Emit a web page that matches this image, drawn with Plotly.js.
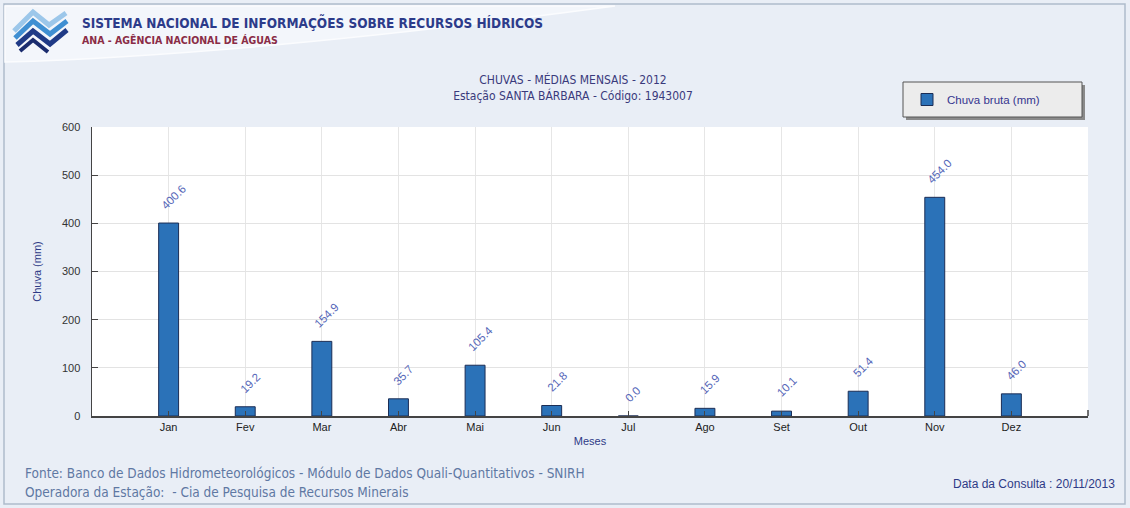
<!DOCTYPE html>
<html>
<head>
<meta charset="utf-8">
<script src="https://cdn.plot.ly/plotly-3.0.1.min.js"></script>
<style>
html,body{margin:0;padding:0;background:#e9eef6;}
#chart{width:1130px;height:508px;}
</style>
</head>
<body>
<div id="chart"></div>
<script>
// ---- data ----
const months = ['Jan','Fev','Mar','Abr','Mai','Jun','Jul','Ago','Set','Out','Nov','Dez'];
const rain = [400.6, 19.2, 154.9, 35.7, 105.4, 21.8, 0.0, 15.9, 10.1, 51.4, 454.0, 46.0];
const rainLabels = rain.map(v => v.toFixed(1));
const seriesName = 'Chuva bruta (mm)';
const titleLines = ['CHUVAS - MÉDIAS MENSAIS - 2012', 'Estação SANTA BÁRBARA - Código: 1943007'];
const headerTitle = 'SISTEMA NACIONAL DE INFORMAÇÕES SOBRE RECURSOS HÍDRICOS';
const headerSub = 'ANA - AGÊNCIA NACIONAL DE ÁGUAS';
const footerLines = ['Fonte: Banco de Dados Hidrometeorológicos - Módulo de Dados Quali-Quantitativos - SNIRH',
                     'Operadora da Estação:  - Cia de Pesquisa de Recursos Minerais'];
const consultDate = 'Data da Consulta : 20/11/2013';

// ---- geometry helpers (pixel -> paper) ----
const L = 92, R = 1088, T = 127, B = 416;
const px = x => (x - L) / (R - L);
const py = y => (B - y) / (B - T);
const P = (x, y) => px(x) + ',' + py(y);

const navy = '#2e3a86';
const condensed = '"Liberation Sans Narrow","DejaVu Sans Condensed","Liberation Sans",Arial,sans-serif';

const trace = {
  type: 'bar',
  x: months,
  y: rain,
  name: seriesName,
  width: 0.26,
  marker: {color: '#2b72b8', line: {color: '#1b2d55', width: 1}},
  hoverinfo: 'x+y'
};

const annotations = months.map((m, i) => ({
  x: m, y: rain[i], xref: 'x', yref: 'y',
  text: rainLabels[i], textangle: -45, showarrow: false,
  xanchor: 'center', yanchor: 'bottom', yshift: 9, xshift: 5,
  font: {family: 'Liberation Sans, Arial, sans-serif', size: 11.5, color: '#5566b8'}
}));

annotations.push(
  {xref: 'paper', yref: 'paper', x: px(80), y: py(22), xanchor: 'left', yanchor: 'middle', showarrow: false,
   text: '<b>' + headerTitle + '</b>', font: {family: condensed, size: 13.5, color: '#2c3b8a'}},
  {xref: 'paper', yref: 'paper', x: px(80), y: py(40), xanchor: 'left', yanchor: 'middle', showarrow: false,
   text: '<b>' + headerSub + '</b>', font: {family: condensed, size: 10.5, color: '#8a2c46'}},
  {xref: 'paper', yref: 'paper', x: px(23), y: py(473), xanchor: 'left', yanchor: 'middle', showarrow: false,
   text: footerLines[0], font: {family: condensed, size: 13.5, color: '#5f78a3'}},
  {xref: 'paper', yref: 'paper', x: px(23), y: py(492), xanchor: 'left', yanchor: 'middle', showarrow: false,
   text: footerLines[1], font: {family: condensed, size: 13.5, color: '#5f78a3'}},
  {xref: 'paper', yref: 'paper', x: px(1117), y: py(484), xanchor: 'right', yanchor: 'middle', showarrow: false,
   text: consultDate, font: {family: 'Liberation Sans, Arial, sans-serif', size: 12, color: '#2e3a86'}}
);

const shapes = [
  // outer frame
  {type: 'rect', xref: 'paper', yref: 'paper', x0: px(4), x1: px(1125), y0: py(4), y1: py(504),
   line: {color: '#aebccb', width: 1.5}, fillcolor: 'rgba(0,0,0,0)', layer: 'below'},
  // header lighter band
  {type: 'path', xref: 'paper', yref: 'paper', layer: 'below',
   path: 'M' + P(5, 62) + ' Q' + P(250, 55) + ' ' + P(615, 6) + ' L' + P(5, 6) + ' Z',
   fillcolor: '#f3f6fb', line: {color: '#fbfcfe', width: 1.5}},
  // logo stripes
  {type: 'path', xref: 'paper', yref: 'paper', path: 'M' + P(14, 31) + ' L' + P(33, 12) + ' L' + P(49, 25) + ' L' + P(66, 13),
   line: {color: '#9cc7ea', width: 5}},
  {type: 'path', xref: 'paper', yref: 'paper', path: 'M' + P(15, 38) + ' L' + P(33, 21) + ' L' + P(50, 34) + ' L' + P(67, 21),
   line: {color: '#3f8fd2', width: 5}},
  {type: 'path', xref: 'paper', yref: 'paper', path: 'M' + P(17, 45) + ' L' + P(33, 31) + ' L' + P(50, 44) + ' L' + P(67, 30),
   line: {color: '#1f3a86', width: 5}},
  {type: 'path', xref: 'paper', yref: 'paper', path: 'M' + P(20, 51) + ' L' + P(33, 40) + ' L' + P(48, 52),
   line: {color: '#1a2c6e', width: 4}},
  // legend box shadow and box
  {type: 'rect', xref: 'paper', yref: 'paper', x0: px(906), x1: px(1085), y0: py(120), y1: py(85),
   fillcolor: '#8a8a8a', line: {width: 0}},
  {type: 'rect', xref: 'paper', yref: 'paper', x0: px(903), x1: px(1082), y0: py(117), y1: py(82),
   fillcolor: '#ececec', line: {color: '#555555', width: 1}},
  // right end tick of x axis
  {type: 'line', xref: 'paper', yref: 'paper', x0: 1, x1: 1, y0: 0, y1: py(410),
   line: {color: '#444444', width: 1.5}}
];

const layout = {
  width: 1130, height: 508,
  paper_bgcolor: '#e9eef6', plot_bgcolor: '#ffffff',
  margin: {l: L, r: 1130 - R, t: T, b: 508 - B, pad: 0},
  font: {family: 'Liberation Sans, Arial, sans-serif', size: 11, color: '#333333'},
  title: {
    text: titleLines.join('<br>'),
    x: 573 / 1130, xanchor: 'center', y: 1 - 84 / 508, yanchor: 'top',
    font: {family: condensed, size: 12, color: '#3a3a7c'}
  },
  xaxis: {
    type: 'category', range: [-1, 12],
    showline: true, linecolor: '#444444', linewidth: 1.5,
    ticks: 'inside', ticklen: 5, tickcolor: '#444444',
    showgrid: true, gridcolor: '#e6e6e6',
    tickfont: {size: 11, color: '#222222'},
    title: {text: 'Meses', standoff: 5, font: {size: 11, color: navy}},
    fixedrange: true
  },
  yaxis: {
    range: [0, 600], dtick: 100,
    showline: true, linecolor: '#444444', linewidth: 1.5,
    ticks: 'inside', ticklen: 6, tickcolor: '#444444',
    ticklabelstandoff: 8,
    showgrid: true, gridcolor: '#e3e3e3', zeroline: false,
    tickfont: {size: 11, color: '#333333'},
    title: {text: 'Chuva (mm)', standoff: 18, font: {size: 11, color: navy}},
    fixedrange: true
  },
  showlegend: true,
  legend: {
    x: px(907), y: py(85), xanchor: 'left', yanchor: 'top',
    bgcolor: 'rgba(0,0,0,0)', borderwidth: 0,
    font: {family: 'Liberation Sans, Arial, sans-serif', size: 11.5, color: '#35358f'}
  },
  annotations: annotations,
  shapes: shapes,
  bargap: 0
};

Plotly.newPlot('chart', [trace], layout, {displayModeBar: false, staticPlot: true});
</script>
</body>
</html>
